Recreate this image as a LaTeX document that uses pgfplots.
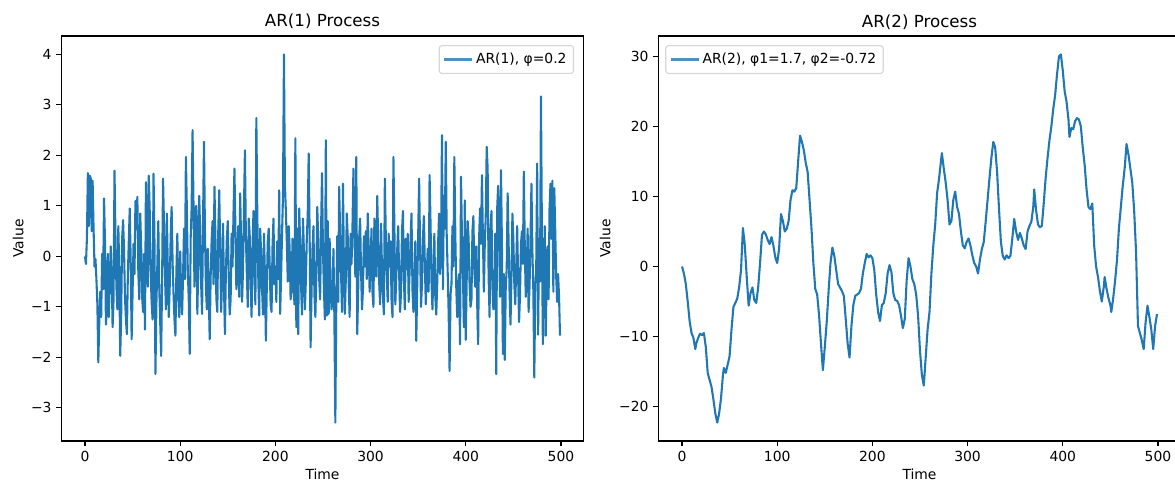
\documentclass[border=0pt]{standalone}
\usepackage{fontspec}
\setmainfont{DejaVu Sans}
\usepackage{pgfplots}
\usepackage{pgfplotstable}
\pgfplotsset{compat=1.18}
\definecolor{mplblue}{RGB}{31,119,180}
\definecolor{legendgray}{RGB}{204,204,204}

% AR(1) series, t = 0..499
\pgfplotstableread[row sep=\\]{
v\\
0.00\\ -0.15\\ 0.35\\ 1.65\\ 0.60\\ 1.60\\ 1.55\\ 0.50\\ 1.50\\ 0.55\\ -0.20\\ -0.05\\ -0.45\\ -0.95\\ -2.10\\ -1.30\\ -0.70\\ -1.20\\ 0.05\\ -0.65\\
1.15\\ 0.30\\ -1.35\\ -1.00\\ 0.05\\ -1.20\\ -0.55\\ 0.20\\ -0.30\\ -1.40\\ -0.85\\ 1.70\\ 0.40\\ -0.60\\ -1.05\\ 0.60\\ -0.25\\ -1.97\\ -1.20\\ 0.35\\
0.72\\ 0.15\\ -0.80\\ -1.25\\ -1.54\\ -0.40\\ 0.30\\ 0.95\\ -0.10\\ -1.64\\ -0.70\\ 0.25\\ -0.35\\ 1.10\\ 0.55\\ 1.18\\ -0.30\\ -0.85\\ 0.85\\ 0.20\\
-0.80\\ -1.10\\ 0.05\\ -1.45\\ 1.47\\ 0.70\\ -0.60\\ 1.60\\ 0.90\\ -0.35\\ -0.90\\ -1.25\\ 1.64\\ 0.30\\ -2.33\\ -0.95\\ -0.15\\ 0.70\\ -0.60\\ -1.30\\
-1.97\\ -0.45\\ 1.54\\ 0.60\\ -0.35\\ -1.05\\ 0.85\\ -0.25\\ -1.20\\ -0.60\\ 0.40\\ 0.98\\ -0.10\\ -0.75\\ -1.25\\ -1.57\\ -0.30\\ 0.45\\ -0.80\\ -1.20\\
0.10\\ -0.70\\ -1.15\\ -0.40\\ 0.55\\ -0.45\\ 1.97\\ 0.95\\ -0.30\\ -0.85\\ -1.93\\ 0.35\\ 0.95\\ 2.50\\ 1.00\\ -0.60\\ 0.95\\ 1.00\\ -1.14\\ -0.20\\
1.20\\ 0.45\\ -0.55\\ -1.14\\ 0.70\\ 2.27\\ 0.50\\ -0.60\\ -1.05\\ 0.15\\ -0.75\\ -1.64\\ -0.40\\ 0.30\\ 0.70\\ -0.55\\ 1.38\\ 0.40\\ -0.85\\ -1.10\\
0.50\\ 1.31\\ 0.20\\ -1.10\\ -0.45\\ 0.65\\ -0.60\\ -1.54\\ -0.30\\ 0.35\\ 0.70\\ -0.40\\ -1.15\\ -0.85\\ 0.45\\ -0.20\\ 0.85\\ 1.74\\ 0.55\\ -0.65\\
-0.45\\ 0.60\\ -0.80\\ 1.25\\ 0.30\\ -0.90\\ -0.25\\ 0.95\\ 2.10\\ 0.40\\ -0.35\\ -1.00\\ 0.75\\ 0.45\\ -0.55\\ -1.20\\ 0.20\\ 0.90\\ -0.35\\ -0.95\\
2.74\\ 0.85\\ -0.40\\ -1.17\\ 0.55\\ 0.10\\ -0.65\\ -1.15\\ 0.45\\ -0.35\\ -1.67\\ -0.60\\ 0.30\\ 0.55\\ -0.15\\ -0.95\\ -1.10\\ 0.20\\ 0.75\\ -0.55\\
-0.20\\ -0.90\\ 0.30\\ -0.45\\ 1.31\\ -1.14\\ -0.40\\ 0.45\\ 1.20\\ 4.00\\ 1.44\\ 0.90\\ 0.30\\ -0.50\\ 0.60\\ 0.15\\ -0.85\\ -0.70\\ 0.35\\ -0.40\\
-0.95\\ 2.34\\ -1.40\\ 0.55\\ -1.54\\ 0.95\\ 0.30\\ -0.60\\ -1.15\\ 0.75\\ 0.10\\ -1.05\\ -0.50\\ 0.35\\ 0.85\\ 2.04\\ 0.40\\ -1.80\\ -0.70\\ 0.15\\
0.60\\ -0.75\\ -1.20\\ -0.40\\ 0.98\\ 0.35\\ -0.45\\ -0.85\\ 0.55\\ 1.65\\ 0.10\\ -0.65\\ -1.25\\ 2.30\\ -1.17\\ 0.70\\ -1.14\\ 0.35\\ -0.60\\ -1.05\\
-0.80\\ 0.15\\ -1.25\\ -3.29\\ -0.85\\ 0.40\\ -0.90\\ 1.38\\ 0.50\\ -0.35\\ -1.10\\ 1.44\\ -0.20\\ -1.14\\ -0.45\\ 0.85\\ 0.40\\ -0.55\\ -1.20\\ 0.45\\
-0.15\\ 0.60\\ 1.74\\ 0.50\\ -0.40\\ 1.97\\ -1.54\\ -0.65\\ 0.35\\ 0.75\\ -0.30\\ -1.05\\ -0.65\\ 0.40\\ -0.20\\ 0.50\\ -0.45\\ 0.85\\ 0.20\\ -0.70\\
-0.10\\ 0.55\\ -0.70\\ -1.00\\ 0.75\\ 0.35\\ -0.40\\ 1.20\\ 0.30\\ -0.50\\ -0.95\\ 0.65\\ -0.25\\ -0.80\\ -1.15\\ 1.54\\ 0.40\\ -0.35\\ -0.90\\ 0.45\\
-0.20\\ 0.30\\ -0.85\\ -1.20\\ 1.97\\ 0.60\\ -0.95\\ -0.40\\ 0.15\\ 0.60\\ -0.35\\ -1.10\\ -0.70\\ 0.50\\ 0.90\\ -0.45\\ -1.05\\ 0.35\\ -0.25\\ 0.45\\
-0.90\\ -0.30\\ 0.30\\ 0.85\\ -0.65\\ -1.10\\ -0.45\\ 0.30\\ -1.67\\ -0.60\\ 0.40\\ 1.54\\ 0.20\\ -1.00\\ -0.55\\ 0.35\\ 0.80\\ -0.15\\ -0.95\\ -0.40\\
0.15\\ -0.70\\ 1.61\\ 0.65\\ -0.50\\ -1.05\\ -0.25\\ 0.45\\ -0.80\\ -1.15\\ -0.55\\ 0.30\\ 0.85\\ -0.35\\ 0.20\\ 2.40\\ -0.65\\ 1.20\\ 0.55\\ 2.27\\
0.40\\ -0.30\\ -1.10\\ -2.27\\ -0.75\\ -0.55\\ 0.60\\ -0.20\\ 1.97\\ 0.45\\ -0.60\\ -1.20\\ -0.55\\ -0.35\\ -1.74\\ 1.58\\ 0.40\\ -0.30\\ -1.40\\ 1.11\\
-1.65\\ -0.45\\ 0.70\\ 0.35\\ -0.55\\ -1.00\\ -0.85\\ 0.50\\ 0.80\\ -0.30\\ -0.60\\ 0.20\\ -0.95\\ -1.74\\ 0.35\\ 0.95\\ 0.25\\ 1.61\\ 0.40\\ -0.70\\
0.25\\ 0.80\\ 2.17\\ 1.74\\ -0.40\\ -1.20\\ 0.55\\ 0.90\\ -0.60\\ -1.05\\ -0.90\\ 0.45\\ -2.33\\ 0.95\\ 1.40\\ 0.35\\ -0.80\\ 1.71\\ 0.20\\ -1.93\\
-0.35\\ -2.05\\ -0.60\\ -0.25\\ 1.25\\ 0.30\\ -0.70\\ -1.35\\ -0.40\\ 0.85\\ 0.35\\ -0.55\\ -0.95\\ -0.20\\ 0.60\\ -0.40\\ -1.30\\ -0.75\\ 0.25\\ 0.50\\
-0.15\\ 1.68\\ 0.20\\ -0.80\\ -0.45\\ 0.55\\ -1.10\\ -0.60\\ 0.35\\ 1.44\\ 0.10\\ -0.70\\ -2.40\\ -0.60\\ -0.25\\ 1.84\\ -1.55\\ 0.35\\ -0.50\\ 3.17\\
0.45\\ -1.74\\ -0.30\\ 0.60\\ -1.57\\ -0.40\\ 0.20\\ -0.85\\ 0.95\\ 1.44\\ 0.35\\ 1.50\\ -0.70\\ 1.35\\ 0.50\\ -0.40\\ -0.90\\ -0.35\\ -0.80\\ -1.57\\
}\arone

% AR(2) series
\pgfplotstableread[row sep=\\]{
t v\\
0 0\\ 2 -1.0\\ 4 -2.5\\ 6 -5.0\\ 8 -7.8\\ 10 -9.5\\ 12 -10.2\\ 14 -11.8\\ 15 -11.0\\ 17 -10.2\\ 19 -9.6\\
21 -9.8\\ 23 -9.5\\ 25 -11.5\\ 27 -15.2\\ 29 -16.2\\ 31 -17.2\\ 33 -19.0\\ 35 -21.0\\ 37 -22.3\\ 39 -21.0\\
41 -18.8\\ 43 -15.5\\ 44 -14.5\\ 46 -15.2\\ 48 -14.0\\ 50 -12.8\\ 52 -9.0\\ 54 -5.8\\ 56 -5.2\\ 58 -4.6\\
60 -3.0\\ 62 -0.5\\ 64 5.5\\ 66 3.0\\ 68 -1.5\\ 70 -5.6\\ 72 -3.8\\ 74 -3.0\\ 76 -4.8\\ 78 -5.2\\
80 -3.0\\ 82 0.5\\ 84 4.5\\ 86 5.0\\ 88 4.6\\ 90 3.8\\ 92 3.2\\ 94 4.2\\ 96 3.0\\ 98 1.3\\
100 0.5\\ 102 2.5\\ 104 7.5\\ 106 6.5\\ 108 5.0\\ 110 5.4\\ 112 6.5\\ 114 9.5\\ 116 10.9\\ 118 10.7\\
120 11.2\\ 122 15.0\\ 124 18.7\\ 126 17.8\\ 128 16.6\\ 130 14.8\\ 132 13.5\\ 134 9.5\\ 136 5.5\\ 138 0.5\\
140 -3.2\\ 142 -4.0\\ 144 -7.0\\ 146 -11.0\\ 148 -14.8\\ 150 -11.5\\ 152 -8.0\\ 154 -3.5\\ 156 0.5\\ 158 2.7\\
160 1.5\\ 162 -0.5\\ 164 -2.5\\ 166 -3.0\\ 168 -3.5\\ 170 -4.2\\ 172 -7.5\\ 174 -11.0\\ 176 -13.0\\ 178 -8.5\\
180 -5.5\\ 182 -4.2\\ 184 -4.0\\ 186 -3.8\\ 188 -3.2\\ 190 -1.0\\ 192 0.5\\ 194 1.8\\ 196 1.3\\ 198 1.6\\
200 1.2\\ 202 -0.5\\ 204 -4.0\\ 206 -6.5\\ 208 -7.8\\ 210 -5.5\\ 212 -5.2\\ 214 -3.8\\ 216 -1.0\\ 218 0.2\\
220 -0.8\\ 222 -3.8\\ 224 -4.8\\ 226 -4.9\\ 228 -5.5\\ 230 -7.0\\ 232 -8.8\\ 234 -7.5\\ 236 -2.0\\ 238 1.2\\
240 0.0\\ 242 -1.8\\ 244 -2.5\\ 246 -4.0\\ 248 -7.0\\ 250 -12.0\\ 252 -15.5\\ 254 -17.0\\ 256 -13.0\\ 258 -9.0\\
260 -6.5\\ 262 -1.0\\ 264 3.0\\ 266 6.0\\ 268 10.5\\ 270 12.5\\ 272 15.0\\ 273 16.2\\ 275 14.0\\ 277 12.0\\
279 9.5\\ 281 6.0\\ 283 6.5\\ 285 9.5\\ 287 10.7\\ 289 8.5\\ 291 7.5\\ 293 5.0\\ 295 3.0\\ 297 2.6\\
299 3.5\\ 301 4.0\\ 303 3.0\\ 305 1.6\\ 307 0.5\\ 309 0.0\\ 311 -1.0\\ 313 1.0\\ 315 2.5\\ 317 3.5\\
319 6.4\\ 321 9.5\\ 323 12.6\\ 325 15.5\\ 327 17.8\\ 329 17.0\\ 331 13.5\\ 333 8.3\\ 335 3.5\\ 337 1.5\\
339 1.0\\ 341 1.6\\ 343 1.2\\ 345 1.5\\ 347 4.0\\ 349 6.8\\ 351 5.0\\ 353 3.8\\ 355 4.8\\ 357 4.0\\
359 3.0\\ 361 2.5\\ 363 5.0\\ 365 5.8\\ 367 6.4\\ 369 8.5\\ 370 11.0\\ 372 8.0\\ 374 6.0\\ 376 5.6\\
378 5.8\\ 380 9.0\\ 382 12.6\\ 384 15.5\\ 386 18.0\\ 388 20.0\\ 390 22.5\\ 392 24.5\\ 394 27.5\\ 396 30.0\\
398 30.3\\ 400 28.0\\ 402 25.0\\ 404 23.5\\ 406 21.0\\ 407 18.5\\ 409 19.8\\ 411 19.6\\ 413 20.8\\ 415 21.2\\
417 21.0\\ 419 20.0\\ 421 17.0\\ 423 14.5\\ 425 11.0\\ 427 8.5\\ 429 8.2\\ 431 9.0\\ 433 3.0\\ 435 0.0\\
437 -1.5\\ 439 -3.5\\ 441 -5.0\\ 443 -3.0\\ 444 -1.5\\ 446 -3.2\\ 448 -4.5\\ 450 -5.5\\ 451 -6.5\\ 453 -4.5\\
455 -2.0\\ 457 1.0\\ 459 5.5\\ 461 8.5\\ 463 11.5\\ 465 14.0\\ 467 17.5\\ 469 16.0\\ 471 14.0\\ 473 12.0\\
475 8.0\\ 477 2.0\\ 479 -8.5\\ 481 -9.5\\ 483 -10.5\\ 485 -11.8\\ 487 -8.0\\ 489 -5.6\\ 491 -7.2\\ 493 -9.0\\
495 -11.8\\ 497 -8.5\\ 499 -6.8\\
}\artwo

\pgfplotsset{
  mplaxis/.style={
    scale only axis, width=376.2bp, height=291.6bp,
    xmin=-24.95, xmax=523.95,
    tick align=outside, xtick pos=bottom, ytick pos=left,
    major tick length=3.5bp,
    every tick/.style={black, line width=0.8bp},
    axis line style={line width=1bp, black},
    xtick={0,100,200,300,400,500},
    /pgf/number format/assume math mode=true,
    tick label style={font=\fontsize{10bp}{12bp}\selectfont, text=black},
    label style={font=\fontsize{10bp}{12bp}\selectfont},
    title style={font=\fontsize{12bp}{14bp}\selectfont, at={(axis description cs:0.5,1)}, anchor=base, yshift=0.5bp},
    xlabel style={at={(axis description cs:0.5,0)}, anchor=center, yshift=-24bp},
    legend style={font=\fontsize{10bp}{12bp}\selectfont, draw=legendgray, line width=0.8bp,
      rounded corners=2bp, fill=white, fill opacity=0.8, text opacity=1, draw opacity=0.8,
      inner xsep=3bp, inner ysep=3.5bp},
    legend cell align=left,
    legend image code/.code={\draw[#1, line width=1.5bp] (0bp,0bp) -- (20bp,0bp);},
    xlabel={Time}, ylabel={Value},
  }
}

\begin{document}
\begin{tikzpicture}
\begin{axis}[mplaxis,
  at={(44.1bp,30.24bp)}, anchor=south west,
  ymin=-3.655, ymax=4.365,
  ytick={-3,-2,-1,0,1,2,3,4},
  yticklabels={−3,−2,−1,0,1,2,3,4},
  ylabel style={at={(axis description cs:-0.0824,0.5)}, anchor=center},
  title={AR(1) Process},
  legend style={at={(axis description cs:1,1)}, anchor=north east, xshift=-7bp, yshift=-6.5bp},
]
\addplot[mplblue, line width=1.5bp, line join=round, no marks] table[x expr=\coordindex, y=v]{\arone};
\addlegendentry{AR(1), φ=0.2}
\end{axis}
\begin{axis}[mplaxis,
  at={(473.94bp,30.24bp)}, anchor=south west,
  ymin=-24.93, ymax=32.93,
  ytick={-20,-10,0,10,20,30},
  yticklabels={−20,−10,0,10,20,30},
  ylabel style={at={(axis description cs:-0.1015,0.5)}, anchor=center},
  title={AR(2) Process},
  legend style={at={(axis description cs:0,1)}, anchor=north west, xshift=5bp, yshift=-6.5bp},
]
\addplot[mplblue, line width=1.5bp, line join=round, no marks] table[x=t, y=v]{\artwo};
\addlegendentry{AR(2), φ1=1.7, φ2=-0.72}
\end{axis}
% full frames of both axes
\draw[black, line width=1bp, line cap=rect] (44.1bp,30.24bp) rectangle (420.3bp,321.84bp);
\draw[black, line width=1bp, line cap=rect] (473.94bp,30.24bp) rectangle (850.14bp,321.84bp);
\pgfresetboundingbox
\useasboundingbox (0,0) rectangle (846bp,347.76bp);
\end{tikzpicture}
\end{document}
